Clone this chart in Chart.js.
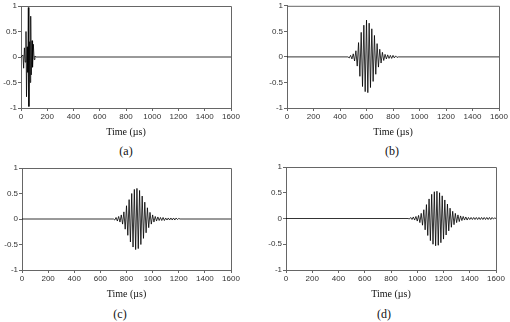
<!DOCTYPE html>
<html>
<head>
<meta charset="utf-8">
<script src="https://cdn.jsdelivr.net/npm/chart.js@4/dist/chart.umd.min.js"></script>
<style>
  body { margin: 0; background: #fff; }
  #wrap { position: relative; width: 510px; height: 322px; overflow: hidden; }
  .panel { position: absolute; }
  .cap { position: absolute; font-family: 'Liberation Serif', serif; font-size: 12px; color: #111; transform: translate(-50%, -50%); }
</style>
</head>
<body>
<div id="wrap">
  <canvas id="ca" class="panel" style="left:0;top:0" width="255" height="140"></canvas>
  <canvas id="cb" class="panel" style="left:255px;top:0" width="255" height="140"></canvas>
  <canvas id="cc" class="panel" style="left:0;top:161px" width="255" height="141"></canvas>
  <canvas id="cd" class="panel" style="left:255px;top:161px" width="255" height="141"></canvas>
  <div class="cap" style="left:126px;top:151px">(a)</div>
  <div class="cap" style="left:392px;top:151px">(b)</div>
  <div class="cap" style="left:120px;top:314px">(c)</div>
  <div class="cap" style="left:384px;top:314px">(d)</div>
</div>
<script>
// received signal at four distances, time in microseconds
const timeA = [0, 15, 20, 26, 32, 38, 42, 48, 52, 56, 60, 66, 70, 74, 78, 84, 88, 94, 100, 106, 112, 1600];
const waveA = [0, 0.04, -0.22, 0.18, -0.1, 0.5, -0.78, 0.2, -0.3, 0.97, -0.97, 0.3, -0.5, 0.8, -0.35, 0.32, -0.2, 0.25, -0.05, 0.02, 0, 0];

const timeB = [0, 460, 470, 480, 490, 500, 510, 520, 530, 540, 550, 560, 570, 580, 590, 600, 610, 620, 630, 640, 650,
  660, 670, 680, 690, 700, 710, 720, 730, 740, 750, 760, 770, 780, 790, 800, 810, 820, 830, 840, 1600];
const waveB = [0, 0, -0.02, 0.03, -0.04, 0.06, -0.08, 0.12, -0.18, 0.28, -0.38, 0.48, -0.58, 0.62, -0.68, 0.72, -0.7, 0.66, -0.6, 0.55, -0.48,
  0.42, -0.34, 0.26, -0.2, 0.15, -0.12, 0.09, -0.07, 0.05, -0.04, 0.04, -0.03, 0.03, -0.03, 0.03, -0.02, 0.02, -0.01, 0, 0];

const timeC = [0, 700, 710, 720, 730, 740, 750, 760, 770, 780, 790, 800, 810, 820, 830, 840, 850, 860, 870, 880, 890,
  900, 910, 920, 930, 940, 950, 960, 970, 980, 990, 1000, 1010, 1020, 1030, 1040, 1050, 1060, 1070, 1080, 1090,
  1100, 1110, 1120, 1130, 1140, 1150, 1160, 1170, 1180, 1190, 1200, 1210, 1600];
const waveC = [0, 0, -0.02, 0.03, -0.04, 0.05, -0.06, 0.08, -0.1, 0.14, -0.2, 0.26, -0.32, 0.38, -0.45, 0.5, -0.55, 0.58, -0.6, 0.6, -0.58,
  0.56, -0.5, 0.45, -0.38, 0.33, -0.27, 0.22, -0.17, 0.13, -0.1, 0.08, -0.06, 0.05, -0.04, 0.04, -0.03, 0.03, -0.03, 0.03, -0.03,
  0.02, -0.02, 0.02, -0.02, 0.02, -0.02, 0.02, -0.02, 0.02, -0.01, 0.01, 0, 0];

const timeD = [0, 930, 940, 950, 960, 970, 980, 990, 1000, 1010, 1020, 1030, 1040, 1050, 1060, 1070, 1080, 1090, 1100,
  1110, 1120, 1130, 1140, 1150, 1160, 1170, 1180, 1190, 1200, 1210, 1220, 1230, 1240, 1250, 1260, 1270, 1280, 1290,
  1300, 1310, 1320, 1330, 1340, 1350, 1360, 1370, 1380, 1390, 1400, 1410, 1420, 1430, 1440, 1450, 1460, 1470, 1480,
  1490, 1500, 1510, 1520, 1530, 1540, 1550, 1560, 1570, 1580, 1590, 1600];
const waveD = [0, 0, -0.01, 0.02, -0.02, 0.03, -0.03, 0.04, -0.05, 0.06, -0.08, 0.1, -0.13, 0.17, -0.22, 0.27, -0.33, 0.38, -0.43,
  0.47, -0.5, 0.52, -0.53, 0.53, -0.52, 0.5, -0.47, 0.44, -0.4, 0.36, -0.32, 0.28, -0.24, 0.2, -0.17, 0.14, -0.12, 0.1,
  -0.08, 0.07, -0.06, 0.05, -0.04, 0.04, -0.03, 0.03, -0.03, 0.02, -0.02, 0.02, -0.02, 0.02, -0.02, 0.02, -0.02, 0.02, -0.02,
  0.02, -0.02, 0.02, -0.02, 0.02, -0.02, 0.02, -0.02, 0.02, -0.01, 0.01, 0];

const xTicks = [0, 200, 400, 600, 800, 1000, 1200, 1400, 1600];
const yTicks = [-1, -0.5, 0, 0.5, 1];
const xLabel = 'Time (\u00b5s)';

const axisGray = '#666';
const tickFont = { family: "'Liberation Sans Narrow', 'Liberation Sans', sans-serif", size: 8 };

// top and right edges of the plot frame
const frameBox = {
  id: 'frameBox',
  afterDraw(chart) {
    const { ctx, chartArea: a } = chart;
    ctx.save();
    ctx.strokeStyle = axisGray;
    ctx.lineWidth = 1;
    ctx.beginPath();
    ctx.moveTo(a.left, a.top + 0.5);
    ctx.lineTo(a.right + 0.5, a.top + 0.5);
    ctx.lineTo(a.right + 0.5, a.bottom);
    ctx.stroke();
    ctx.restore();
  }
};

function drawPanel(id, times, wave, yWidth, pad) {
  const points = times.map((t, i) => ({ x: t, y: wave[i] }));
  new Chart(document.getElementById(id), {
    type: 'line',
    data: {
      datasets: [{
        data: points,
        borderColor: '#000',
        borderWidth: 0.8,
        pointRadius: 0,
        tension: 0,
        fill: false
      }]
    },
    options: {
      responsive: false,
      animation: false,
      layout: { padding: pad },
      plugins: { legend: { display: false }, tooltip: { enabled: false } },
      scales: {
        x: {
          type: 'linear',
          min: 0,
          max: 1600,
          afterBuildTicks: s => { s.ticks = xTicks.map(v => ({ value: v })); },
          afterFit: s => { s.height = 30; },
          grid: { drawOnChartArea: false, color: axisGray, tickLength: 3 },
          border: { color: axisGray },
          ticks: { font: tickFont, color: '#333', padding: 1, maxRotation: 0, callback: v => String(v) },
          title: {
            display: true,
            text: xLabel,
            font: { family: "'Liberation Serif', serif", size: 10 },
            color: '#111',
            padding: { top: 1, bottom: 0 }
          }
        },
        y: {
          min: -1,
          max: 1,
          afterBuildTicks: s => { s.ticks = yTicks.map(v => ({ value: v })); },
          afterFit: s => { s.width = yWidth; },
          grid: { drawOnChartArea: false, color: axisGray, tickLength: 3 },
          border: { color: axisGray },
          ticks: { font: tickFont, color: '#333', padding: 1, callback: v => String(v) }
        }
      }
    },
    plugins: [frameBox]
  });
}

drawPanel('ca', timeA, waveA, 21, { top: 6, right: 24, bottom: 2, left: 0 });
drawPanel('cb', timeB, waveB, 32, { top: 5, right: 11, bottom: 2, left: 0 });
drawPanel('cc', timeC, waveC, 22, { top: 7, right: 24, bottom: 2, left: 0 });
drawPanel('cd', timeD, waveD, 31, { top: 6, right: 14, bottom: 2, left: 0 });
</script>
</body>
</html>
